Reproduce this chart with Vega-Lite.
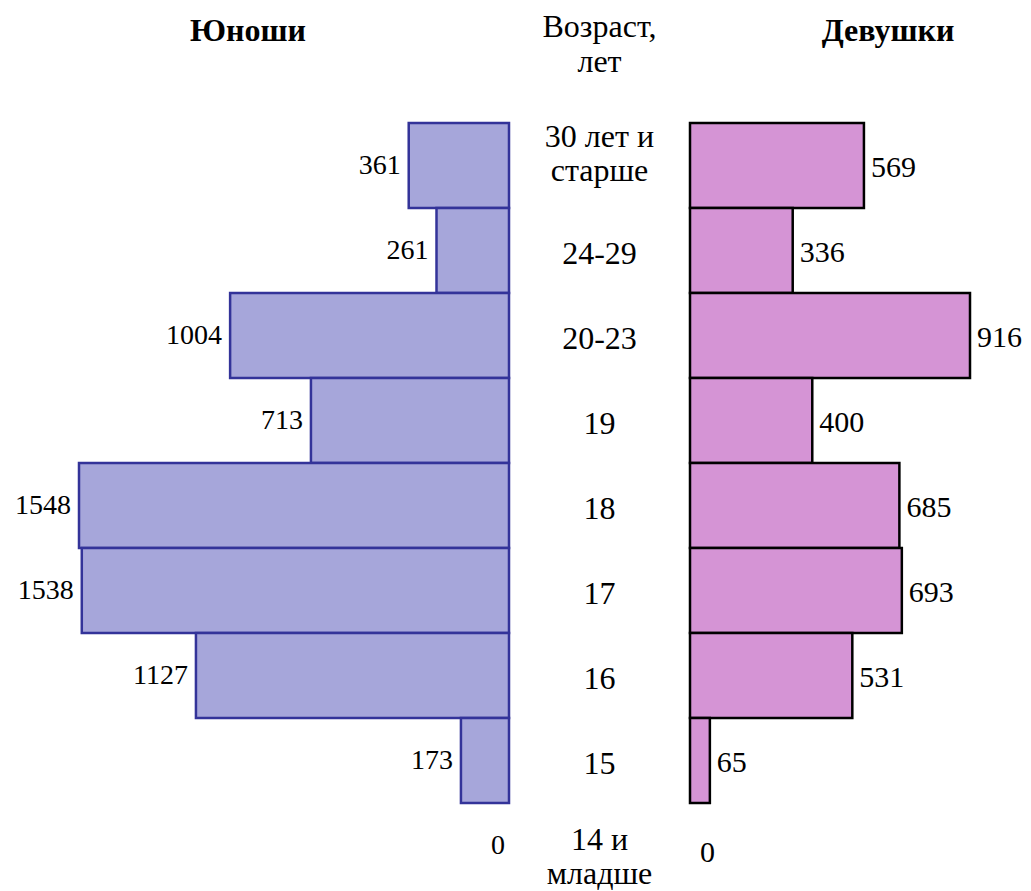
{
  "$schema": "https://vega.github.io/schema/vega-lite/v6.json",
  "autosize": {"type": "pad"},
  "padding": {"left": 15, "top": 10, "right": 0, "bottom": 0},
  "background": "white",
  "bounds": "flush",
  "spacing": 0,
  "config": {
    "view": {"stroke": null},
    "font": "Liberation Serif",
    "title": {"font": "Liberation Serif", "fontSize": 32, "color": "black", "lineHeight": 35},
    "text": {"font": "Liberation Serif", "fontSize": 28, "color": "black"}
  },
  "data": {
    "values": [
      {"age": "30 лет и\nстарше", "boys": 361, "girls": 569},
      {"age": "24-29", "boys": 261, "girls": 336},
      {"age": "20-23", "boys": 1004, "girls": 916},
      {"age": "19", "boys": 713, "girls": 400},
      {"age": "18", "boys": 1548, "girls": 685},
      {"age": "17", "boys": 1538, "girls": 693},
      {"age": "16", "boys": 1127, "girls": 531},
      {"age": "15", "boys": 173, "girls": 65},
      {"age": "14 и\nмладше", "boys": 0, "girls": 0}
    ]
  },
  "hconcat": [
    {
      "width": 430,
      "height": 765,
      "title": {"text": "Юноши", "fontWeight": "bold", "anchor": "middle", "offset": 74, "dx": -46},
      "encoding": {
        "y": {"field": "age", "type": "nominal", "axis": null,
              "scale": {"domain": ["30 лет и\nстарше", "24-29", "20-23", "19", "18", "17", "16", "15", "14 и\nмладше"], "paddingInner": 0, "paddingOuter": 0}},
        "x": {"field": "boys", "type": "quantitative", "axis": null,
              "scale": {"domain": [0, 1548], "reverse": true, "nice": false}}
      },
      "layer": [
        {
          "transform": [{"filter": "datum.boys > 0"}],
          "mark": {"type": "bar", "fill": "#a6a6da", "stroke": "#333399", "strokeWidth": 2.5}
        },
        {
          "transform": [{"filter": "datum.boys > 0"}],
          "mark": {"type": "text", "align": "right", "baseline": "middle", "dx": -8},
          "encoding": {"text": {"field": "boys", "type": "quantitative"}}
        },
        {
          "transform": [{"filter": "datum.boys == 0"}],
          "mark": {"type": "text", "align": "right", "baseline": "middle", "dx": -4},
          "encoding": {"text": {"field": "boys", "type": "quantitative"}}
        }
      ]
    },
    {
      "width": 181,
      "height": 765,
      "title": {"text": ["Возраст,", "лет"], "fontWeight": "normal", "anchor": "middle", "offset": 42},
      "encoding": {
        "y": {"field": "age", "type": "nominal", "axis": null,
              "scale": {"domain": ["30 лет и\nстарше", "24-29", "20-23", "19", "18", "17", "16", "15", "14 и\nмладше"], "paddingInner": 0, "paddingOuter": 0}},
        "x": {"datum": 0.5, "type": "quantitative", "axis": null, "scale": {"domain": [0, 1]}},
        "text": {"field": "age", "type": "nominal"}
      },
      "layer": [
        {
          "transform": [{"filter": "datum.age != '30 лет и\\nстарше' && datum.age != '14 и\\nмладше'"}],
          "mark": {"type": "text", "align": "center", "baseline": "middle", "lineBreak": "\n", "lineHeight": 34, "fontSize": 32, "dy": 3}
        },
        {
          "transform": [{"filter": "datum.age == '30 лет и\\nстарше'"}],
          "mark": {"type": "text", "align": "center", "baseline": "middle", "lineBreak": "\n", "lineHeight": 34, "fontSize": 32, "dy": -29}
        },
        {
          "transform": [{"filter": "datum.age == '14 и\\nмладше'"}],
          "mark": {"type": "text", "align": "center", "baseline": "middle", "lineBreak": "\n", "lineHeight": 34, "fontSize": 32, "dy": -6}
        }
      ]
    },
    {
      "width": 280,
      "height": 765,
      "title": {"text": "Девушки", "fontWeight": "bold", "anchor": "middle", "offset": 74, "dx": 58},
      "encoding": {
        "y": {"field": "age", "type": "nominal", "axis": null,
              "scale": {"domain": ["30 лет и\nстарше", "24-29", "20-23", "19", "18", "17", "16", "15", "14 и\nмладше"], "paddingInner": 0, "paddingOuter": 0}},
        "x": {"field": "girls", "type": "quantitative", "axis": null,
              "scale": {"domain": [0, 916], "nice": false}}
      },
      "layer": [
        {
          "transform": [{"filter": "datum.girls > 0"}],
          "mark": {"type": "bar", "fill": "#d594d5", "stroke": "black", "strokeWidth": 2.5}
        },
        {
          "transform": [{"filter": "datum.girls > 0"}],
          "mark": {"type": "text", "align": "left", "baseline": "middle", "dx": 7, "dy": 2, "fontSize": 30},
          "encoding": {"text": {"field": "girls", "type": "quantitative"}}
        },
        {
          "transform": [{"filter": "datum.girls == 0"}],
          "mark": {"type": "text", "align": "left", "baseline": "middle", "dx": 10, "dy": 7, "fontSize": 30},
          "encoding": {"text": {"field": "girls", "type": "quantitative"}}
        }
      ]
    }
  ]
}
